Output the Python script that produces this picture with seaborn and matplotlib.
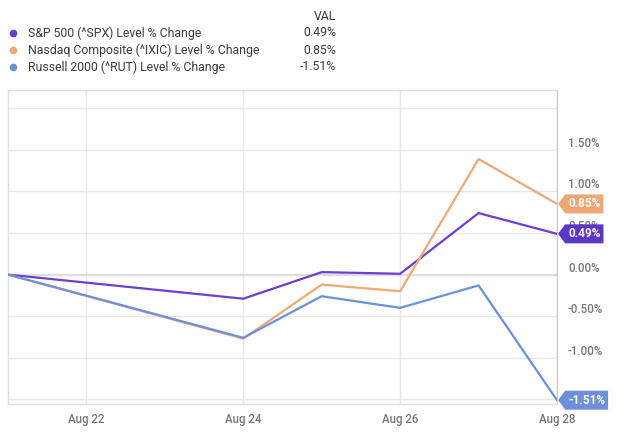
import matplotlib
matplotlib.use("Agg")
import matplotlib.pyplot as plt
from matplotlib.path import Path
from matplotlib.lines import Line2D
import seaborn as sns
import pandas as pd

dates = ["2020-08-21", "2020-08-24", "2020-08-25", "2020-08-26", "2020-08-27", "2020-08-28"]
series_names = ["S&P 500 (^SPX) Level % Change",
                "Nasdaq Composite (^IXIC) Level % Change",
                "Russell 2000 (^RUT) Level % Change"]
spx = [0.00, -0.29, 0.03, 0.01, 0.74, 0.49]
ixic = [0.00, -0.77, -0.12, -0.20, 1.39, 0.85]
rut = [0.00, -0.76, -0.26, -0.40, -0.13, -1.51]
last_vals = ["0.49%", "0.85%", "-1.51%"]
colors = ["#6a3fd1", "#f0a877", "#6d90dc"]
badge_colors = ["#5c36c6", "#eda775", "#6d90d8"]
xtick_dates = ["2020-08-22", "2020-08-24", "2020-08-26", "2020-08-28"]
xtick_labels = ["Aug 22", "Aug 24", "Aug 26", "Aug 28"]
ytick_vals = [-1.5, -1.0, -0.5, 0.0, 0.5, 1.0, 1.5, 2.0]
ytick_labels = ["", "-1.00%", "-0.50%", "0.00%", "0.50%", "1.00%", "1.50%", ""]

df = pd.DataFrame({
    "date": pd.to_datetime(dates * 3),
    "value": spx + ixic + rut,
    "series": [series_names[0]] * 6 + [series_names[1]] * 6 + [series_names[2]] * 6,
})

sns.set_theme(style="white")
plt.rcParams["font.family"] = ["Roboto", "DejaVu Sans"]

W, H = 640, 436
fig = plt.figure(figsize=(W / 100, H / 100), dpi=100)
ax = fig.add_axes([8 / W, (H - 403.5) / H, (557 - 8) / W, (403.5 - 90) / H])

sns.lineplot(data=df, x="date", y="value", hue="series", palette=colors,
             linewidth=1.6, legend=False, ax=ax, zorder=3)

ax.set_xlim(pd.Timestamp("2020-08-21"), pd.Timestamp("2020-08-28"))
ax.set_ylim(-1.55, 2.22)
ax.set_xlabel("")
ax.set_ylabel("")

ax.set_xticks(pd.to_datetime(xtick_dates))
ax.set_xticklabels(xtick_labels)
ax.yaxis.tick_right()
ax.set_yticks(ytick_vals)
ax.set_yticklabels(ytick_labels)
ax.tick_params(axis="y", length=0, pad=8, labelsize=8.3, labelcolor="#777777")
ax.tick_params(axis="x", length=0, pad=7, labelsize=8.3, labelcolor="#777777")
for lab in ax.get_yticklabels():
    lab.set_verticalalignment("bottom")
for lab in ax.get_xticklabels() + ax.get_yticklabels():
    lab.set_fontweight("medium")

ax.grid(True, color="#e8e8e8", linewidth=1.0)
ax.axhline(0, color="#dedede", linewidth=1.6, zorder=1)
for s in ["left", "top", "bottom"]:
    ax.spines[s].set_color("#e0e0e0")
    ax.spines[s].set_linewidth(1.0)
ax.spines["right"].set_color("#cfcfcf")
ax.spines["right"].set_linewidth(1.0)


def tag(x0, y0, width, height, mutation_size):
    padx, pady = 3.0, 3.0
    tip = 7.0
    l = x0 - padx
    r = x0 + width + padx
    b = y0 - pady
    t = y0 + height + pady
    m = (b + t) / 2
    verts = [(l, t), (r, t), (r, b), (l, b), (l - tip, m), (l, t), (l, t)]
    codes = [Path.MOVETO, Path.LINETO, Path.LINETO, Path.LINETO, Path.LINETO,
             Path.LINETO, Path.CLOSEPOLY]
    return Path(verts, codes)


finals = [spx[-1], ixic[-1], rut[-1]]
for v, txt, c in zip(finals, last_vals, badge_colors):
    ax.annotate(txt, xy=(1, v), xycoords=("axes fraction", "data"),
                xytext=(8, 0), textcoords="offset points", ha="left", va="center",
                color="white", fontsize=8.5, fontweight="bold",
                bbox=dict(boxstyle=tag, fc=c, ec="none"),
                annotation_clip=False, zorder=10)

# legend block
fig.text(336 / W, 1 - 16 / H, "VAL", ha="right", va="center", fontsize=8.8, color="#3a3a3a")
rows_y = [33, 50, 67]
for name, val, c, yy in zip(series_names, last_vals, colors, rows_y):
    fig.add_artist(Line2D([13 / W], [1 - yy / H], marker="o", markersize=4.5,
                          color=c, transform=fig.transFigure, linestyle="none"))
    fig.text(28 / W, 1 - yy / H, name, ha="left", va="center", fontsize=8.8, color="#3a3a3a")
    fig.text(336 / W, 1 - yy / H, val, ha="right", va="center", fontsize=8.8, color="#3a3a3a")

fig.savefig("out.png", dpi=100)
